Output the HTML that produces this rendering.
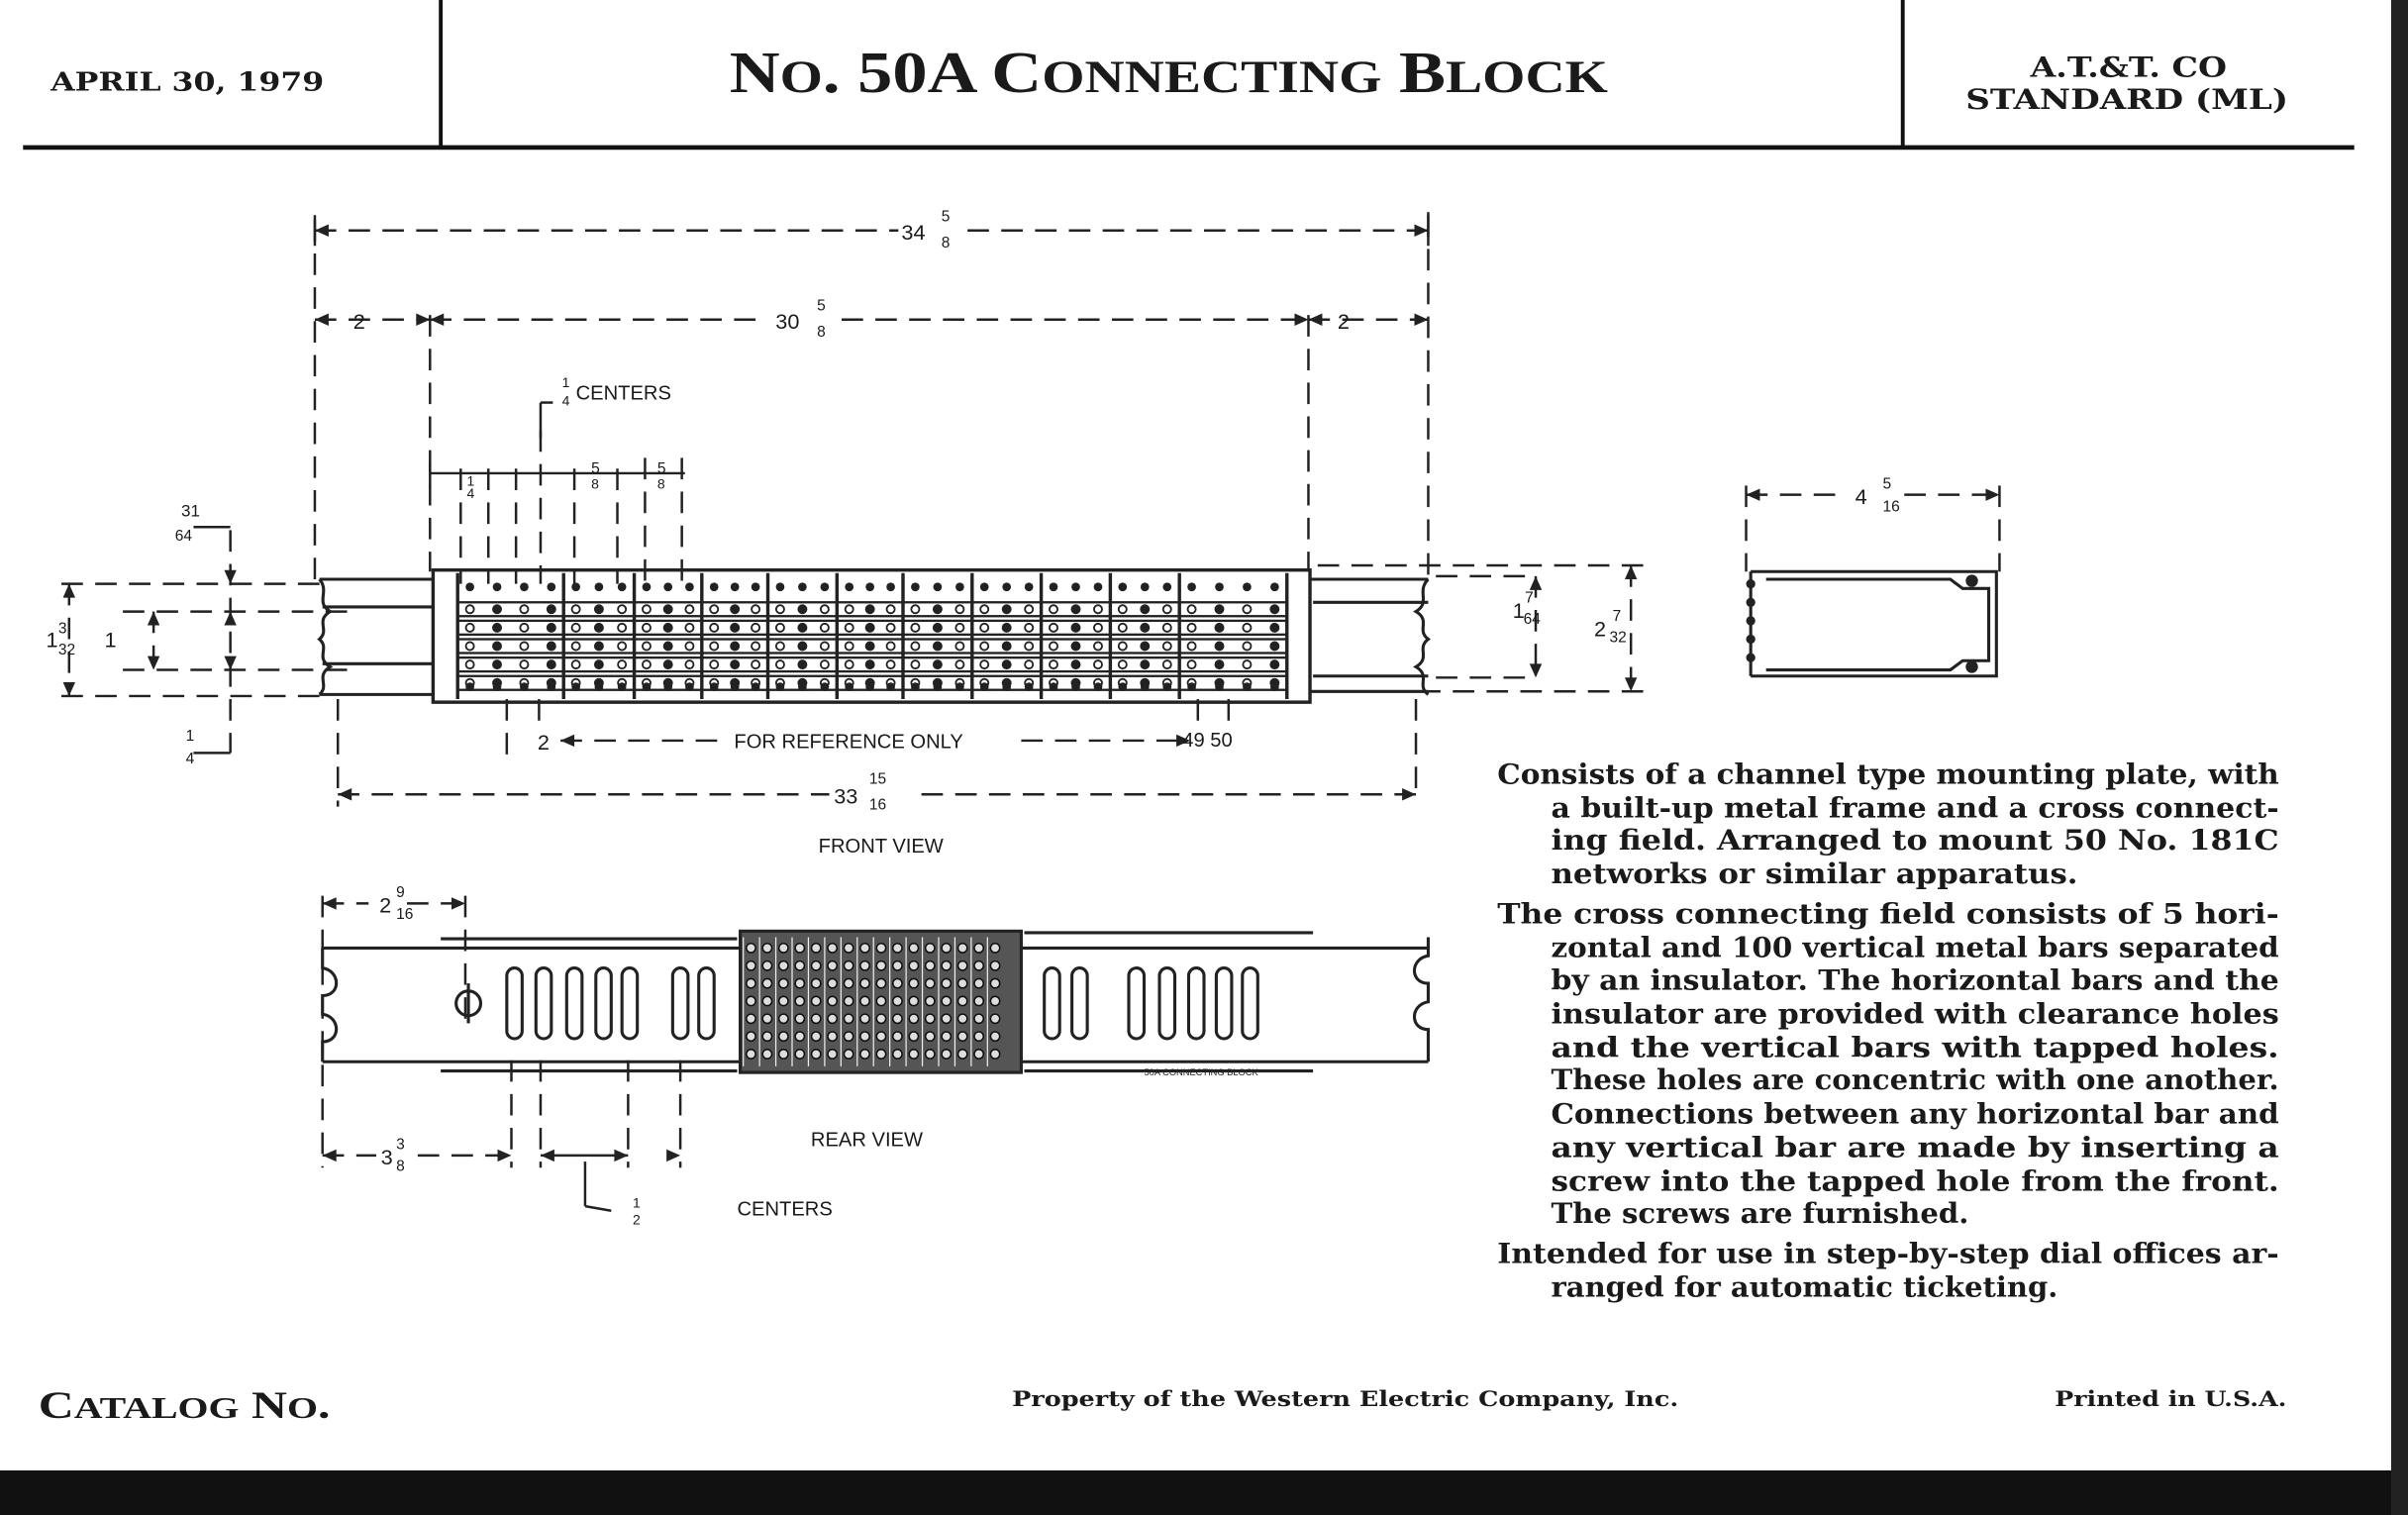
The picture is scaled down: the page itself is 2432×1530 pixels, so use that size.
<!DOCTYPE html>
<html><head><meta charset="utf-8"><style>
html,body{margin:0;padding:0;background:#fff;}
svg{display:block;}
.s{font-family:"DejaVu Serif","Liberation Serif",serif;font-weight:bold;fill:#1a1a1a;}
.t{font-family:"Liberation Serif",serif;font-weight:bold;fill:#1a1a1a;}
.a{font-family:"Liberation Sans",sans-serif;fill:#1a1a1a;}
</style></head><body>
<svg id="v" width="2432" height="1530" viewBox="0 0 1568 986" preserveAspectRatio="none" xmlns="http://www.w3.org/2000/svg">
<rect width="1568" height="986" fill="#fff"/>
<rect x="0" y="957" width="1568" height="29" fill="#111"/>
<rect x="1557" y="0" width="11" height="986" fill="#222"/>
<!-- header -->
<line x1="15" y1="96" x2="1533" y2="96" stroke="#111" stroke-width="3"/>
<line x1="287" y1="0" x2="287" y2="96" stroke="#111" stroke-width="2.5"/>
<line x1="1239" y1="0" x2="1239" y2="96" stroke="#111" stroke-width="2.5"/>
<text class="s" x="33" y="59" font-size="17" textLength="178" lengthAdjust="spacingAndGlyphs">APRIL 30, 1979</text>
<text class="t" x="475" y="60" font-size="38" textLength="572" lengthAdjust="spacingAndGlyphs">N<tspan font-size="30">O</tspan>. 50A C<tspan font-size="30">ONNECTING</tspan> B<tspan font-size="30">LOCK</tspan></text>
<text class="s" x="1322" y="50" font-size="18" textLength="128" lengthAdjust="spacingAndGlyphs">A.T.&amp;T. CO</text>
<text class="s" x="1280" y="71" font-size="18" textLength="210" lengthAdjust="spacingAndGlyphs">STANDARD (ML)</text>
<!-- footer -->
<text class="t" x="25" y="923" font-size="25" textLength="190" lengthAdjust="spacingAndGlyphs">C<tspan font-size="20">ATALOG</tspan> N<tspan font-size="20">O</tspan>.</text>
<text class="s" x="659" y="915" font-size="14" textLength="434" lengthAdjust="spacingAndGlyphs">Property of the Western Electric Company, Inc.</text>
<text class="s" x="1338" y="915" font-size="14" textLength="151" lengthAdjust="spacingAndGlyphs">Printed in U.S.A.</text>
<!-- paragraph -->
<g class="s" font-size="18">
<text x="975" y="510" textLength="509" lengthAdjust="spacingAndGlyphs">Consists of a channel type mounting plate, with</text>
<text x="1010" y="532" textLength="474" lengthAdjust="spacingAndGlyphs">a built-up metal frame and a cross connect-</text>
<text x="1010" y="553" textLength="474" lengthAdjust="spacingAndGlyphs">ing field.  Arranged to mount 50 No. 181C</text>
<text x="1010" y="575" textLength="343" lengthAdjust="spacingAndGlyphs">networks or similar apparatus.</text>
<text x="975" y="601" textLength="509" lengthAdjust="spacingAndGlyphs">The cross connecting field consists of 5 hori-</text>
<text x="1010" y="623" textLength="474" lengthAdjust="spacingAndGlyphs">zontal and 100 vertical metal bars separated</text>
<text x="1010" y="644" textLength="474" lengthAdjust="spacingAndGlyphs">by an insulator. The horizontal bars and the</text>
<text x="1010" y="666" textLength="474" lengthAdjust="spacingAndGlyphs">insulator are provided with clearance holes</text>
<text x="1010" y="688" textLength="474" lengthAdjust="spacingAndGlyphs">and the vertical bars with  tapped  holes.</text>
<text x="1010" y="709" textLength="474" lengthAdjust="spacingAndGlyphs">These holes are concentric with one another.</text>
<text x="1010" y="731" textLength="474" lengthAdjust="spacingAndGlyphs">Connections between any horizontal bar and</text>
<text x="1010" y="753" textLength="474" lengthAdjust="spacingAndGlyphs">any vertical bar are made by inserting a</text>
<text x="1010" y="775" textLength="474" lengthAdjust="spacingAndGlyphs">screw into the tapped hole from the front.</text>
<text x="1010" y="796" textLength="272" lengthAdjust="spacingAndGlyphs">The screws are furnished.</text>
<text x="975" y="822" textLength="509" lengthAdjust="spacingAndGlyphs">Intended for use in step-by-step dial offices ar-</text>
<text x="1010" y="844" textLength="330" lengthAdjust="spacingAndGlyphs">ranged for automatic ticketing.</text>
</g>
<!-- dimension lines -->
<g stroke="#222" stroke-width="1.6" fill="none" stroke-dasharray="14,8">
<line x1="205" y1="150" x2="585" y2="150"/><line x1="630" y1="150" x2="930" y2="150"/>
<line x1="205" y1="143" x2="205" y2="378"/><line x1="930" y1="140" x2="930" y2="376"/>
<line x1="205" y1="208" x2="280" y2="208"/><line x1="280" y1="208" x2="500" y2="208"/><line x1="548" y1="208" x2="852" y2="208"/><line x1="852" y1="208" x2="930" y2="208"/>
<line x1="280" y1="205" x2="280" y2="372"/><line x1="852" y1="205" x2="852" y2="372"/>
<line x1="220" y1="455" x2="220" y2="525"/><line x1="922" y1="455" x2="922" y2="520"/>
<line x1="220" y1="517" x2="540" y2="517"/><line x1="600" y1="517" x2="922" y2="517"/>
<line x1="365" y1="482" x2="470" y2="482"/><line x1="665" y1="482" x2="770" y2="482"/>
<line x1="40" y1="380" x2="215" y2="380"/><line x1="40" y1="453" x2="215" y2="453"/>
<line x1="80" y1="398" x2="230" y2="398"/><line x1="80" y1="436" x2="230" y2="436"/>
<line x1="858" y1="368" x2="1070" y2="368"/><line x1="858" y1="450" x2="1070" y2="450"/>
<line x1="935" y1="375" x2="1000" y2="375"/><line x1="935" y1="441" x2="1000" y2="441"/>
<line x1="1137" y1="322" x2="1200" y2="322"/><line x1="1240" y1="322" x2="1302" y2="322"/>
<line x1="1137" y1="316" x2="1137" y2="372"/><line x1="1302" y1="316" x2="1302" y2="372"/>
<line x1="210" y1="588" x2="240" y2="588"/><line x1="265" y1="588" x2="303" y2="588"/>
<line x1="210" y1="583" x2="210" y2="760"/><line x1="303" y1="583" x2="303" y2="665"/>
<line x1="210" y1="752" x2="245" y2="752"/><line x1="272" y1="752" x2="333" y2="752"/>
<line x1="333" y1="690" x2="333" y2="760"/><line x1="352" y1="690" x2="352" y2="760"/>
<line x1="409" y1="690" x2="409" y2="760"/><line x1="443" y1="690" x2="443" y2="760"/>
<line x1="300" y1="305" x2="300" y2="380"/><line x1="318" y1="305" x2="318" y2="380"/>
<line x1="336" y1="305" x2="336" y2="380"/><line x1="352" y1="280" x2="352" y2="380"/>
<line x1="374" y1="305" x2="374" y2="380"/><line x1="402" y1="305" x2="402" y2="380"/>
<line x1="420" y1="298" x2="420" y2="380"/><line x1="444" y1="298" x2="444" y2="380"/>
<line x1="330" y1="455" x2="330" y2="492"/><line x1="351" y1="455" x2="351" y2="470"/>
<line x1="780" y1="455" x2="780" y2="472"/><line x1="800" y1="455" x2="800" y2="472"/>
<line x1="1062" y1="368" x2="1062" y2="450"/><line x1="1000" y1="375" x2="1000" y2="441"/>
<line x1="150" y1="345" x2="150" y2="490"/><line x1="100" y1="398" x2="100" y2="436"/><line x1="45" y1="380" x2="45" y2="453"/>
</g>
<g stroke="#222" stroke-width="1.6" fill="none">
<line x1="205" y1="140" x2="205" y2="160"/><line x1="930" y1="138" x2="930" y2="160"/>
<line x1="280" y1="300" x2="280" y2="318"/><line x1="280" y1="308" x2="446" y2="308"/>
<line x1="352" y1="262" x2="352" y2="285"/><line x1="352" y1="262" x2="360" y2="262"/>
<line x1="381" y1="756" x2="381" y2="785"/><line x1="381" y1="785" x2="398" y2="788"/>
<line x1="352" y1="752" x2="409" y2="752"/>
<line x1="126" y1="343" x2="150" y2="343"/><line x1="126" y1="490" x2="150" y2="490"/>
</g>
<!-- arrowheads -->
<g fill="#222">
<path d="M205 150l9-4v8z"/><path d="M930 150l-9-4v8z"/>
<path d="M205 208l9-4v8z"/><path d="M280 208l-9-4v8z"/><path d="M280 208l9-4v8z"/><path d="M852 208l-9-4v8z"/><path d="M852 208l9-4v8z"/><path d="M930 208l-9-4v8z"/>
<path d="M220 517l9-4v8z"/><path d="M922 517l-9-4v8z"/>
<path d="M365 482l9-4v8z"/><path d="M775 482l-9-4v8z"/>
<path d="M45 380l-4 9h8z"/><path d="M45 453l-4-9h8z"/><path d="M100 398l-4 9h8z"/><path d="M100 436l-4-9h8z"/>
<path d="M150 380l-4-9h8z"/><path d="M150 398l-4 9h8z"/><path d="M150 436l-4-9h8z"/>
<path d="M1062 368l-4 9h8z"/><path d="M1062 450l-4-9h8z"/><path d="M1000 375l-4 9h8z"/><path d="M1000 441l-4-9h8z"/>
<path d="M1137 322l9-4v8z"/><path d="M1302 322l-9-4v8z"/>
<path d="M210 588l9-4v8z"/><path d="M303 588l-9-4v8z"/>
<path d="M210 752l9-4v8z"/><path d="M333 752l-9-4v8z"/><path d="M352 752l9-4v8z"/><path d="M409 752l-9-4v8z"/><path d="M443 752l-9-4v8z"/>
</g>
<!-- dim labels -->
<g class="a" font-size="14">
<text x="587" y="156">34</text><text x="613" y="144" font-size="10">5</text><text x="613" y="161" font-size="10">8</text>
<text x="505" y="214">30</text><text x="532" y="202" font-size="10">5</text><text x="532" y="219" font-size="10">8</text>
<text x="230" y="214">2</text><text x="871" y="214">2</text>
<text x="543" y="523">33</text><text x="566" y="510" font-size="10">15</text><text x="566" y="527" font-size="10">16</text>
<text x="478" y="487" font-size="13">FOR REFERENCE ONLY</text>
<text x="350" y="488">2</text><text x="770" y="486" font-size="13">49  50</text>
<text x="533" y="555" font-size="13">FRONT VIEW</text>
<text x="528" y="746" font-size="13">REAR VIEW</text>
<text x="375" y="260" font-size="13">CENTERS</text><text x="366" y="252" font-size="9">1</text><text x="366" y="264" font-size="9">4</text>
<text x="480" y="791" font-size="13">CENTERS</text><text x="412" y="786" font-size="9">1</text><text x="412" y="797" font-size="9">2</text>
<text x="247" y="594">2</text><text x="258" y="584" font-size="10">9</text><text x="258" y="598" font-size="10">16</text>
<text x="248" y="758">3</text><text x="258" y="748" font-size="10">3</text><text x="258" y="762" font-size="10">8</text>
<text x="30" y="421">1</text><text x="38" y="412" font-size="10">3</text><text x="38" y="426" font-size="10">32</text>
<text x="68" y="421">1</text>
<text x="118" y="336" font-size="11">31</text><text x="114" y="352" font-size="10">64</text>
<text x="121" y="482" font-size="10">1</text><text x="121" y="497" font-size="10">4</text>
<text x="985" y="402">1</text><text x="993" y="392" font-size="10">7</text><text x="992" y="406" font-size="10">64</text>
<text x="1038" y="414">2</text><text x="1050" y="404" font-size="10">7</text><text x="1048" y="418" font-size="10">32</text>
<text x="1208" y="328">4</text><text x="1226" y="318" font-size="10">5</text><text x="1226" y="333" font-size="10">16</text>
<text x="304" y="316" font-size="9">1</text><text x="304" y="324" font-size="9">4</text>
<text x="385" y="308" font-size="10">5</text><text x="385" y="318" font-size="9">8</text>
<text x="428" y="308" font-size="10">5</text><text x="428" y="318" font-size="9">8</text>
<text x="745" y="700" font-size="6">50A CONNECTING BLOCK</text>
</g>
<!-- side view -->
<g stroke="#222" stroke-width="2" fill="none">
<path d="M1140 372 H1300 V440 H1140"/>
<path d="M1150 377 H1270 l8 6 H1295 V430 H1278 l-8 6 H1150"/>
<line x1="1140" y1="372" x2="1140" y2="440"/>
</g>
<g fill="#222"><circle cx="1140" cy="380" r="3"/><circle cx="1140" cy="392" r="3"/><circle cx="1140" cy="404" r="3"/><circle cx="1140" cy="416" r="3"/><circle cx="1140" cy="428" r="3"/><circle cx="1284" cy="378" r="4"/><circle cx="1284" cy="434" r="4"/></g>
<!-- front view body -->
<g stroke="#222" stroke-width="2" fill="none">
<path d="M208 377 H282 M208 452 H282 M853 377 H930 M853 450 H930"/>
<path d="M208 377 C215 385 205 392 215 398 C205 404 215 410 208 416 C215 422 205 428 215 434 C205 440 215 446 208 452"/>
<path d="M930 377 C922 385 932 392 922 398 C932 404 922 410 930 416 C922 422 932 428 922 434 C932 440 922 446 930 452"/>
<path d="M210 395 H282 M210 432 H282 M855 392 H930 M855 440 H930"/>
<rect x="282" y="371" width="571" height="86" stroke-width="2.2"/>
</g>
<g id="fv"></g>
<!-- rear view -->
<g stroke="#222" stroke-width="2" fill="none">
<path d="M210 617 H482 M210 691 H482 M665 617 H930 M665 691 H930"/>
<path d="M287 611 H480 M287 697 H480 M667 607 H855 M667 697 H855"/>
<path d="M210 617 V630 C222 632 222 648 210 648 V660 C222 662 222 678 210 678 V691"/>
<path d="M930 610 V622 C918 624 918 640 930 640 V652 C918 654 918 670 930 670 V691"/>
<circle cx="305" cy="653" r="8"/>
<line x1="305" y1="640" x2="305" y2="666"/>
</g>
<g id="rv"></g>
<rect x="482" y="606" width="183" height="92" fill="#555" stroke="#222" stroke-width="2"/>
<g id="rg"></g>
</svg>
<script>
var NS="http://www.w3.org/2000/svg";
function el(p,t,a){var e=document.createElementNS(NS,t);for(var k in a)e.setAttribute(k,a[k]);p.appendChild(e);return e;}
var fv=document.getElementById('fv');
for(var i=0;i<5;i++){var y=392+i*12;el(fv,'rect',{x:298,y:y,width:540,height:9,fill:'none',stroke:'#222','stroke-width':1.5});}
var xs=[298,367,413,457,500,545,588,633,678,723,768,838];
for(var i=0;i<xs.length;i++){el(fv,'line',{x1:xs[i],y1:373,x2:xs[i],y2:455,stroke:'#222','stroke-width':2.2});}
for(var s=0;s<xs.length-1;s++){var x0=xs[s],x1=xs[s+1],n=(x1-x0>50)?4:3;
 for(var c=0;c<n;c++){var cx=x0+8+c*(x1-x0-16)/(n-1);
  for(var r=0;r<5;r++){el(fv,'circle',{cx:cx,cy:396.5+r*12,r:2.6,fill:(c%2==0?'none':'#222'),stroke:'#222','stroke-width':1.2});}
  el(fv,'circle',{cx:cx,cy:382,r:2.8,fill:'#222'});el(fv,'circle',{cx:cx,cy:447,r:2.8,fill:'#222'});}}
var rv=document.getElementById('rv');
[335,354,374,393,410,443,460,685,703,740,760,779,797,814].forEach(function(x){el(rv,'rect',{x:x-5,y:630,width:10,height:46,rx:5,fill:'none',stroke:'#222','stroke-width':2});});
var rg=document.getElementById('rg');
for(var i=0;i<16;i++){var x=489+i*10.6;el(rg,'line',{x1:x-5,y1:610,x2:x-5,y2:694,stroke:'#eee','stroke-width':0.8});
 for(var j=0;j<7;j++){el(rg,'circle',{cx:x,cy:617+j*11.5,r:3,fill:'#ddd',stroke:'#111','stroke-width':1});}}
</script>
</body></html>
